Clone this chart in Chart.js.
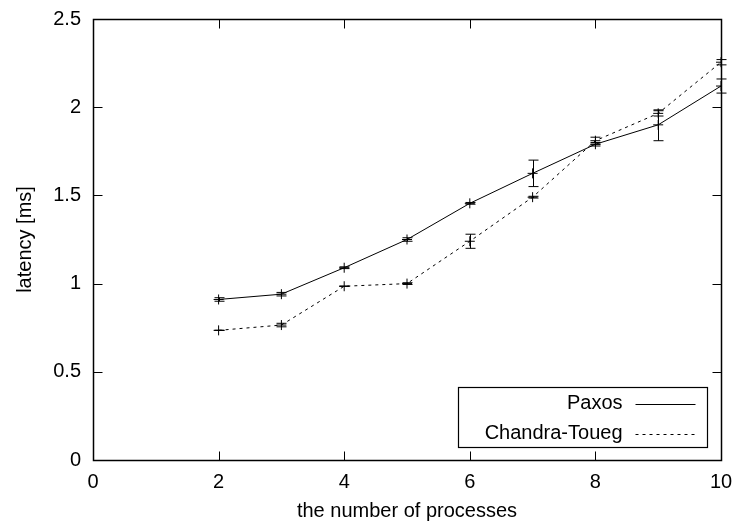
<!DOCTYPE html>
<html>
<head>
<meta charset="utf-8">
<script src="https://cdn.jsdelivr.net/npm/chart.js@4"></script>
<style>
  html, body { margin: 0; padding: 0; background: #fff; }
  #wrap { width: 733px; height: 523px; }
</style>
</head>
<body>
<div id="wrap"><canvas id="myChart" width="733" height="523"></canvas></div>
<script>
// data
const procs = [2, 3, 4, 5, 6, 7, 8, 9, 10];
const paxos = [0.91, 0.94, 1.09, 1.25, 1.455, 1.625, 1.79, 1.90, 2.12];
const paxosLow = [0.90, 0.93, 1.085, 1.24, 1.45, 1.55, 1.78, 1.81, 2.08];
const paxosHigh = [0.92, 0.95, 1.095, 1.26, 1.46, 1.70, 1.80, 1.98, 2.16];
const chandra = [0.735, 0.765, 0.985, 1.00, 1.24, 1.49, 1.81, 1.965, 2.255];
const chandraLow = [0.735, 0.755, 0.985, 0.995, 1.20, 1.485, 1.79, 1.95, 2.24];
const chandraHigh = [0.735, 0.775, 0.985, 1.005, 1.28, 1.495, 1.83, 1.985, 2.27];
const xTicks = [0, 2, 4, 6, 8, 10];
const yTicks = [0, 0.5, 1, 1.5, 2, 2.5];

const font = { family: "'Liberation Sans', Arial, sans-serif", size: 20 };

function toPoints(ys) {
    return procs.map((x, i) => ({ x: x, y: ys[i] }));
}

// error bars drawn through the scales
const errorBars = {
    id: 'errorBars',
    afterDatasetsDraw(chart) {
        const ctx = chart.ctx;
        const xs = chart.scales.x, ys = chart.scales.y;
        const sets = [[paxosLow, paxosHigh], [chandraLow, chandraHigh]];
        ctx.save();
        ctx.strokeStyle = '#000';
        ctx.lineWidth = 1;
        sets.forEach(([lo, hi]) => {
            procs.forEach((p, i) => {
                const px = Math.round(xs.getPixelForValue(p)) + 0.5;
                const y1 = ys.getPixelForValue(lo[i]);
                const y2 = ys.getPixelForValue(hi[i]);
                ctx.beginPath();
                ctx.moveTo(px, y1); ctx.lineTo(px, y2);
                ctx.moveTo(px - 5, y1); ctx.lineTo(px + 5, y1);
                ctx.moveTo(px - 5, y2); ctx.lineTo(px + 5, y2);
                ctx.stroke();
            });
        });
        ctx.restore();
    }
};

// gnuplot style frame with inward ticks on every side + legend box
const frame = {
    id: 'frame',
    afterDraw(chart) {
        const ctx = chart.ctx;
        const a = chart.chartArea;
        const xs = chart.scales.x, ys = chart.scales.y;
        const L = Math.round(a.left) + 0.5, R = Math.round(a.right) + 0.5;
        const T = Math.round(a.top) + 0.5, B = Math.round(a.bottom) + 0.5;
        ctx.save();
        ctx.strokeStyle = '#000';
        ctx.lineWidth = 1.5;
        ctx.strokeRect(L, T, R - L, B - T);
        ctx.lineWidth = 1;
        ctx.beginPath();
        xTicks.forEach(v => {
            const px = Math.round(xs.getPixelForValue(v)) + 0.5;
            ctx.moveTo(px, B); ctx.lineTo(px, B - 9);
            ctx.moveTo(px, T); ctx.lineTo(px, T + 9);
        });
        yTicks.forEach(v => {
            const py = Math.round(ys.getPixelForValue(v)) + 0.5;
            ctx.moveTo(L, py); ctx.lineTo(L + 9, py);
            ctx.moveTo(R, py); ctx.lineTo(R - 9, py);
        });
        ctx.stroke();

        // legend
        const bx2 = R - 14, by2 = B - 13;
        const bx1 = bx2 - 249, by1 = by2 - 60;
        ctx.fillStyle = '#fff';
        ctx.fillRect(bx1, by1, bx2 - bx1, by2 - by1);
        ctx.lineWidth = 1.2;
        ctx.strokeRect(bx1, by1, bx2 - bx1, by2 - by1);
        ctx.font = font.size + 'px ' + font.family;
        ctx.fillStyle = '#000';
        ctx.textAlign = 'right';
        ctx.textBaseline = 'middle';
        const names = chart.data.datasets.map(d => d.label);
        names.forEach((n, i) => {
            const ty = by1 + 16 + i * 30;
            ctx.fillText(n, bx2 - 85, ty);
            ctx.beginPath();
            ctx.lineWidth = 1;
            ctx.setLineDash(chart.data.datasets[i].borderDash || []);
            ctx.moveTo(bx2 - 72, Math.round(ty) + 0.5);
            ctx.lineTo(bx2 - 12, Math.round(ty) + 0.5);
            ctx.stroke();
            ctx.setLineDash([]);
        });
        ctx.restore();
    }
};

const ctx = document.getElementById('myChart');
const graphique = new Chart(ctx.getContext('2d'), {
    type: 'line',
    data: {
        datasets: [{
            label: 'Paxos',
            data: toPoints(paxos),
            borderColor: '#000',
            borderWidth: 1,
            pointStyle: 'cross',
            pointRadius: 5,
            pointBorderColor: '#000',
            pointBorderWidth: 1,
            fill: false,
            tension: 0
        }, {
            label: 'Chandra-Toueg',
            data: toPoints(chandra),
            borderColor: '#000',
            borderWidth: 1,
            borderDash: [3, 4],
            pointStyle: 'cross',
            pointRadius: 5,
            pointBorderColor: '#000',
            pointBorderWidth: 1,
            fill: false,
            tension: 0
        }]
    },
    options: {
        responsive: false,
        animation: false,
        layout: { padding: { top: 19, right: 12, left: 0, bottom: 0 } },
        plugins: { legend: { display: false }, tooltip: { enabled: false } },
        scales: {
            x: {
                type: 'linear',
                min: 0, max: 10,
                afterBuildTicks: s => { s.ticks = xTicks.map(v => ({ value: v })); },
                afterFit: s => { s.height = 63; s.paddingLeft = 0; s.paddingRight = 0; },
                grid: { display: false, drawTicks: false },
                border: { display: false },
                ticks: { color: '#000', font: font, padding: 10, maxRotation: 0, callback: v => String(v) },
                title: { display: true, text: 'the number of processes', color: '#000', font: font, padding: { top: 4, bottom: 0 } }
            },
            y: {
                type: 'linear',
                min: 0, max: 2.5,
                afterBuildTicks: s => { s.ticks = yTicks.map(v => ({ value: v })); },
                afterFit: s => { s.width = 93; s.paddingTop = 0; s.paddingBottom = 0; },
                grid: { display: false, drawTicks: false },
                border: { display: false },
                ticks: { color: '#000', font: font, padding: 12, callback: v => String(v) },
                title: { display: true, text: 'latency [ms]', color: '#000', font: font, padding: { top: 13, bottom: 4 } }
            }
        }
    },
    plugins: [errorBars, frame]
});
</script>
</body>
</html>
